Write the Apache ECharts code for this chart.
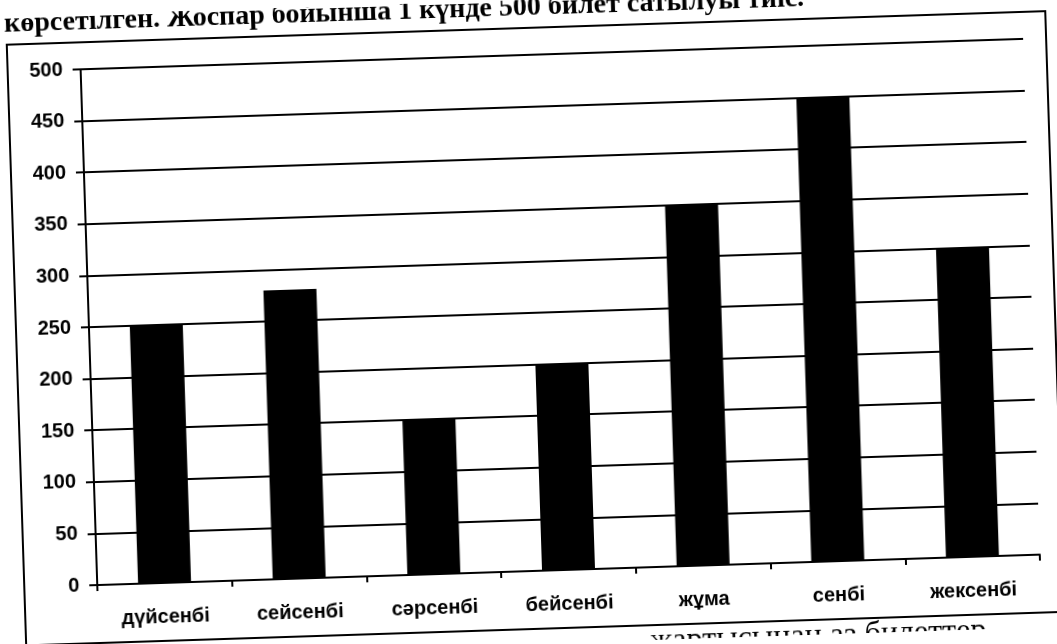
<!DOCTYPE html>
<html>
<head>
<meta charset="utf-8">
<script src="https://cdn.jsdelivr.net/npm/echarts@6/dist/echarts.min.js"></script>
<style>
  html, body { margin: 0; padding: 0; background: #fff; overflow: hidden; }
  /* the scan is tilted a little, so the whole sheet is turned */
  #chart { width: 1057px; height: 644px; transform: rotate(-1.85deg); transform-origin: 50% 50%; }
</style>
</head>
<body>
<div id="chart"></div>
<script>
// days of the week and tickets sold
const days = ["дүйсенбі", "сейсенбі", "сәрсенбі", "бейсенбі", "жұма", "сенбі", "жексенбі"];
const tickets = [250, 280, 150, 200, 350, 450, 300];
const yMin = 0;
const yMax = 500;
const yStep = 50;

const headerText = "көрсетілген. Жоспар бойынша 1 күнде 500 билет сатылуы тиіс.";
const footerText = "жартысынан аз билеттер";

const chart = echarts.init(document.getElementById("chart"), null, { renderer: "canvas" });

const option = {
  animation: false,
  backgroundColor: "#fff",
  grid: {
    left: 89,
    right: 25,
    top: 55,
    bottom: 73,
    containLabel: false,
  },
  xAxis: {
    type: "category",
    data: days,
    axisLine: { lineStyle: { color: "#000", width: 2 } },
    axisTick: { show: true, inside: false, length: 6, lineStyle: { color: "#000", width: 2 } },
    axisLabel: {
      color: "#000",
      fontFamily: "Liberation Sans",
      fontWeight: "bold",
      fontSize: 20,
      margin: 24,
    },
  },
  yAxis: {
    type: "value",
    min: yMin,
    max: yMax,
    interval: yStep,
    axisLine: { show: true, lineStyle: { color: "#000", width: 2 } },
    axisTick: { show: true, length: 8, lineStyle: { color: "#000", width: 2 } },
    axisLabel: {
      color: "#000",
      fontFamily: "Liberation Sans",
      fontWeight: "bold",
      fontSize: 20,
      margin: 18,
    },
    splitLine: { show: true, lineStyle: { color: "#000", width: 2 } },
  },
  series: [
    {
      type: "bar",
      data: tickets,
      barWidth: 53,
      itemStyle: { color: "#000" },
    },
  ],
  graphic: [
    {
      type: "rect",
      shape: { x: 16, y: 28, width: 1039, height: 601 },
      style: { fill: "none", stroke: "#000", lineWidth: 2 },
    },
    {
      type: "text",
      x: 14,
      y: 22,
      style: {
        text: headerText,
        fill: "#000",
        font: "bold 28px 'Liberation Serif'",
        textVerticalAlign: "bottom",
      },
    },
    {
      type: "text",
      x: 640,
      y: 630,
      style: {
        text: footerText,
        fill: "#000",
        font: "32px 'Liberation Serif'",
        textVerticalAlign: "top",
      },
    },
  ],
};

chart.setOption(option);
</script>
</body>
</html>
